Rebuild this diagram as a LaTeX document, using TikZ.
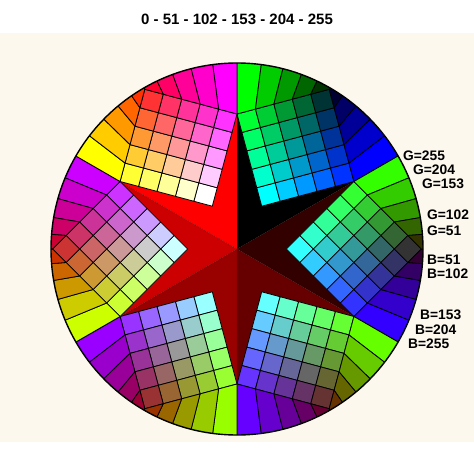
\documentclass[tikz,border=0pt]{standalone}
\usepackage{fontspec}
\setmainfont{Liberation Sans}
\definecolor{paper}{HTML}{FCF8EE}

\begin{document}
\begin{tikzpicture}[
    x=1pt, y=1pt,
    cell/.style={
        draw=black,
        line width=.8pt,
        line join=round
    },
    rim/.style={
        draw=black,
        line width=1.4pt
    },
    seam/.style={
        draw=black,
        line width=.4pt,
        opacity=.35
    },
    lbl/.style={
        anchor=west,
        inner sep=0pt,
        font=\fontsize{13.8}{15}\selectfont\bfseries
    },
    titletext/.style={
        inner sep=0pt,
        font=\fontsize{15}{18}\selectfont\bfseries
    }
]
\def\rad{186}
\def\rext{215}
\def\uo{49.41}
\def\hh{13.5}

% ------------------------------------------------
% Page and background
% ------------------------------------------------
\useasboundingbox (-237,-225) rectangle (237,249);
\fill[white] (-237,-225) rectangle (237,249);
\fill[paper] (-237,-193) rectangle (237,216);

\node[titletext] (title) at (0,230) {0 - 51 - 102 - 153 - 204 - 255};

% ------------------------------------------------
% Six planes R = const, each a 6x6 grid of G and B
% ------------------------------------------------
\begin{scope}
\clip (0,0) circle (\rad);
\foreach \ang/\rv in {60/0, 0/51, -60/102, -120/153, 180/204, 120/255}{
  \begin{scope}[rotate=\ang]
    \foreach \i in {0,...,6}{
      \foreach \j in {0,...,6}{
        \pgfmathsetmacro\ci{min(\i,5)}
        \pgfmathsetmacro\cj{min(\j,5)}
        \pgfmathsetmacro\pu{\uo+\hh*(\ci+\cj)}
        \pgfmathsetmacro\pv{\hh*(\ci-\cj)}
        \pgfmathsetmacro\sc{(max(\i,\j)>5) ? \rext/veclen(\pu,\pv) : 1}
        \pgfmathsetmacro\px{\sc*\pu}
        \pgfmathsetmacro\py{\sc*\pv}
        \coordinate (p\i-\j) at (\px,\py);
      }
    }
    % star point of this plane
    \definecolor{starred}{RGB}{\rv,0,0}
    \fill[starred] (0,0) -- (p0-5) -- (p0-0) -- (p5-0) -- cycle;
    % colour cells
    \foreach \i in {0,...,5}{
      \foreach \j in {0,...,5}{
        \pgfmathtruncatemacro\ni{\i+1}
        \pgfmathtruncatemacro\nj{\j+1}
        \pgfmathtruncatemacro\gv{255-51*\j}
        \pgfmathtruncatemacro\bv{255-51*\i}
        \definecolor{cellfill}{RGB}{\rv,\gv,\bv}
        \filldraw[cell, fill=cellfill] (p\i-\j) -- (p\ni-\j) -- (p\ni-\nj) -- (p\i-\nj) -- cycle;
      }
    }
    \draw[seam] (0,0) -- (p5-0);
  \end{scope}
}
\end{scope}
\draw[rim] (0,0) circle (\rad);

% ------------------------------------------------
% Labels on the right rim
% ------------------------------------------------
\node[lbl] (g255) at (166,93)   {G=255};
\node[lbl] (g204) at (176,79.5) {G=204};
\node[lbl] (g153) at (185,65.5) {G=153};
\node[lbl] (g102) at (190,34)   {G=102};
\node[lbl] (g51)  at (190,18)   {G=51};
\node[lbl] (b51)  at (190,-11)  {B=51};
\node[lbl] (b102) at (190,-25)  {B=102};
\node[lbl] (b153) at (183,-66)  {B=153};
\node[lbl] (b204) at (178,-81)  {B=204};
\node[lbl] (b255) at (171,-95)  {B=255};

\end{tikzpicture}
\end{document}
